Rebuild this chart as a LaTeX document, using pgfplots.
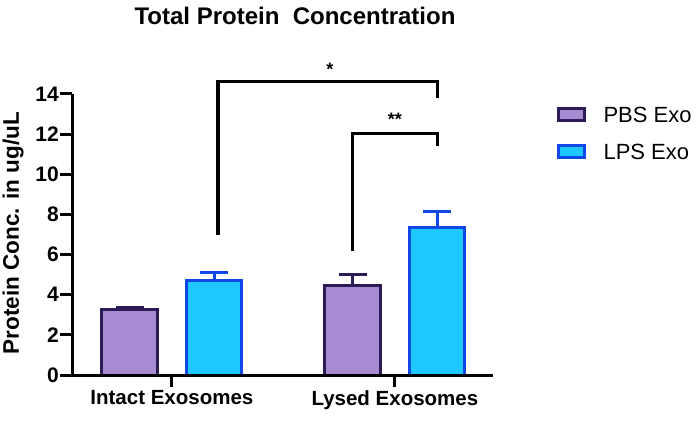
\documentclass[border=0pt]{standalone}
\usepackage{pgfplots}
\pgfplotsset{compat=1.18}
\usepackage{fontspec}
\setmainfont{Liberation Sans}
\definecolor{pbsFill}{HTML}{A68BD3}
\definecolor{pbsEdge}{HTML}{2D1B55}
\definecolor{lpsFill}{HTML}{1EC8FF}
\definecolor{lpsEdge}{HTML}{0F48E6}
\begin{document}
\begin{tikzpicture}
\useasboundingbox (0pt,0pt) rectangle (700pt,420pt);
\begin{axis}[
  at={(72pt,45pt)}, anchor=south west,
  scale only axis, width=421pt, height=281pt,
  xmin=0.552, xmax=2.44, ymin=0, ymax=14,
  axis x line=bottom, axis y line=left,
  axis line style={line width=3pt, -},
  tick style={line width=3pt, black},
  major tick length=12pt, tick align=outside,
  ytick={0,2,...,14},
  xtick={1,2}, xticklabels={Intact Exosomes, Lysed Exosomes},
  yticklabel style={font=\fontsize{21}{21}\bfseries\selectfont, inner sep=1pt},
  xticklabel style={font=\fontsize{20.5}{20.5}\bfseries\selectfont},
  /pgf/number format/assume math mode=true,
  ybar, bar width=0.247,
  clip=false, axis on top,
]
\addplot[bar shift=-0.19, draw=pbsEdge, fill=pbsFill, line width=3pt,
  error bars/.cd, y dir=plus, y explicit,
  error bar style={pbsEdge, line width=3pt},
  error mark options={rotate=90, pbsEdge, line width=3pt, mark size=14pt}]
  coordinates {(1,3.24) +- (0,0.10) (2,4.44) +- (0,0.55)};
\addplot[bar shift=0.19, draw=lpsEdge, fill=lpsFill, line width=3pt,
  error bars/.cd, y dir=plus, y explicit,
  error bar style={lpsEdge, line width=3pt},
  error mark options={rotate=90, lpsEdge, line width=3pt, mark size=14pt}]
  coordinates {(1,4.70) +- (0,0.42) (2,7.37) +- (0,0.78)};
% significance brackets
\draw[line width=3.5pt, line join=miter] (axis cs:1.207,6.98) -- (axis cs:1.207,14.63) -- (axis cs:2.19,14.63) -- (axis cs:2.19,13.8);
\draw[line width=3.5pt, line join=miter] (axis cs:1.81,6.2) -- (axis cs:1.81,12.02) -- (axis cs:2.19,12.02) -- (axis cs:2.19,11.4);
\node[font=\fontsize{18}{18}\bfseries\selectfont] at (axis cs:1.709,15.25) {*};
\node[font=\fontsize{18}{18}\bfseries\selectfont] at (axis cs:2.0,12.75) {**};
\end{axis}
\node[rotate=90, font=\fontsize{22.5}{22.5}\bfseries\selectfont] at (13pt,187pt) {Protein Conc. in ug/uL};
\node[font=\fontsize{24}{24}\bfseries\selectfont] at (295pt,404pt) {Total Protein\ \ Concentration};
\draw[pbsEdge, fill=pbsFill, line width=3pt] (558.5pt,299.5pt) rectangle (584.5pt,311.5pt);
\node[anchor=west, font=\fontsize{22}{22}\selectfont] at (600pt,305pt) {PBS Exo};
\draw[lpsEdge, fill=lpsFill, line width=3pt] (558.5pt,262.5pt) rectangle (584.5pt,274.5pt);
\node[anchor=west, font=\fontsize{22}{22}\selectfont] at (600pt,268pt) {LPS Exo};
\end{tikzpicture}
\end{document}
